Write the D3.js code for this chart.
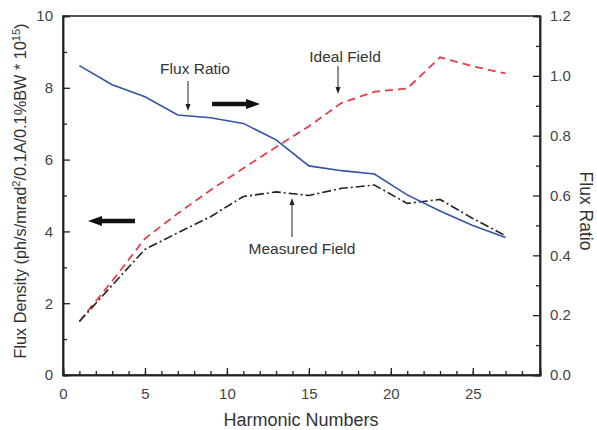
<!DOCTYPE html>
<html>
<head>
<meta charset="utf-8">
<script src="https://cdn.jsdelivr.net/npm/d3@7"></script>
<style>
  body { margin: 0; background: #fff; }
  svg { font-family: "Liberation Sans", Arial, sans-serif; }
  .tick text { fill: #444; font-size: 15px; }
</style>
</head>
<body>
<svg width="597" height="430"></svg>
<script>
// Harmonic numbers (odd harmonics)
const harmonics = [1, 3, 5, 7, 9, 11, 13, 15, 17, 19, 21, 23, 25, 27];
// Ideal field flux density (left axis)
const idealField = [1.49, 2.62, 3.8, 4.5, 5.15, 5.76, 6.35, 6.93, 7.58, 7.89, 7.98, 8.85, 8.6, 8.4];
// Measured field flux density (left axis)
const measuredField = [1.49, 2.5, 3.5, 3.96, 4.41, 4.97, 5.1, 5.0, 5.2, 5.29, 4.78, 4.89, 4.36, 3.88];
// Flux ratio (right axis)
const fluxRatio = [1.034, 0.97, 0.93, 0.869, 0.86, 0.841, 0.786, 0.699, 0.683, 0.672, 0.602, 0.548, 0.50, 0.46];

const leftTicks = [0, 2, 4, 6, 8, 10];
const rightTicks = [0, 0.2, 0.4, 0.6, 0.8, 1.0, 1.2];
const xTicks = [0, 5, 10, 15, 20, 25];

const svg = d3.select("svg");
const margin = { left: 63, right: 57, top: 16, bottom: 55 };
const W = 597, H = 430;

const x = d3.scaleLinear().domain([0, 29.1]).range([margin.left, W - margin.right]);
const yL = d3.scaleLinear().domain([0, 10]).range([H - margin.bottom, margin.top]);
const yR = d3.scaleLinear().domain([0, 1.2]).range([H - margin.bottom, margin.top]);

const axisColor = "#222";

// frame
svg.append("rect")
  .attr("x", x(0)).attr("y", yL(10))
  .attr("width", x(29.1) - x(0)).attr("height", yL(0) - yL(10))
  .attr("fill", "none").attr("stroke", axisColor).attr("stroke-width", 1.5);

// bottom axis: ticks inward
const xAxis = svg.append("g").attr("transform", `translate(0,${yL(0)})`);
xAxis.call(d3.axisBottom(x).tickValues(xTicks).tickSize(-7).tickPadding(13).tickFormat(d3.format("d")));
xAxis.append("g").call(d3.axisBottom(x).tickValues(d3.range(1, 29)).tickSize(-4).tickFormat(""));

const yAxisL = svg.append("g").attr("transform", `translate(${x(0)},0)`);
yAxisL.call(d3.axisLeft(yL).tickValues(leftTicks).tickSize(-7).tickPadding(10).tickFormat(d3.format("d")));
yAxisL.append("g").call(d3.axisLeft(yL).tickValues([1, 3, 5, 7, 9]).tickSize(-4).tickFormat(""));

const yAxisR = svg.append("g").attr("transform", `translate(${x(29.1)},0)`);
yAxisR.call(d3.axisRight(yR).tickValues(rightTicks).tickSize(-7).tickPadding(10).tickFormat(d3.format(".1f")));
yAxisR.append("g").call(d3.axisRight(yR).tickValues([0.1, 0.3, 0.5, 0.7, 0.9, 1.1]).tickSize(-4).tickFormat(""));

svg.selectAll(".domain").attr("stroke", axisColor).attr("stroke-width", 1.5);
svg.selectAll(".tick line").attr("stroke", axisColor).attr("stroke-width", 1.3);

// series
const lineL = d3.line().x((d, i) => x(harmonics[i])).y(d => yL(d));
const lineR = d3.line().x((d, i) => x(harmonics[i])).y(d => yR(d));

svg.append("path").datum(idealField).attr("d", lineL)
  .attr("fill", "none").attr("stroke", "#e2404c").attr("stroke-width", 1.8)
  .attr("stroke-dasharray", "8,5");

svg.append("path").datum(measuredField).attr("d", lineL)
  .attr("fill", "none").attr("stroke", "#222").attr("stroke-width", 1.6)
  .attr("stroke-dasharray", "9,3,2,3");

svg.append("path").datum(fluxRatio).attr("d", lineR)
  .attr("fill", "none").attr("stroke", "#3353a5").attr("stroke-width", 1.6);

// annotations
const ann = svg.append("g").attr("fill", "#333").attr("font-size", 15.5);
function label(tx, ty, text) {
  ann.append("text").attr("x", tx).attr("y", ty).attr("text-anchor", "middle").text(text);
}
function thinArrow(x0, y0, y1) {
  const dir = y1 > y0 ? 1 : -1;
  svg.append("line").attr("x1", x0).attr("x2", x0).attr("y1", y0).attr("y2", y1 - dir * 5)
    .attr("stroke", "#222").attr("stroke-width", 1);
  svg.append("path")
    .attr("d", `M${x0 - 2.5},${y1 - dir * 7}L${x0},${y1}L${x0 + 2.5},${y1 - dir * 7}Z`)
    .attr("fill", "#222");
}
function thickArrow(x0, x1, yy) {
  const dir = x1 > x0 ? 1 : -1;
  svg.append("line").attr("x1", x0).attr("x2", x1 - dir * 10).attr("y1", yy).attr("y2", yy)
    .attr("stroke", "#111").attr("stroke-width", 4.5);
  svg.append("path")
    .attr("d", `M${x1 - dir * 14},${yy - 5}L${x1},${yy}L${x1 - dir * 14},${yy + 5}Z`)
    .attr("fill", "#111");
}

label(195, 74, "Flux Ratio");
thinArrow(188, 81, 111);
thickArrow(212, 260, 104);

label(345, 62, "Ideal Field");
thinArrow(338, 66, 94);

thickArrow(135, 88, 221);

label(302, 254, "Measured Field");
thinArrow(292, 237, 198);

// axis titles
svg.append("text").attr("x", 301).attr("y", 426)
  .attr("text-anchor", "middle").attr("font-size", 18).attr("fill", "#333")
  .text("Harmonic Numbers");

const lt = svg.append("text")
  .attr("transform", `translate(26,191) rotate(-90)`)
  .attr("text-anchor", "middle").attr("font-size", 16.3).attr("fill", "#333");
lt.append("tspan").text("Flux Density (ph/s/mrad");
lt.append("tspan").attr("dy", -6).attr("font-size", 11).text("2");
lt.append("tspan").attr("dy", 6).text("/0.1A/0.1%BW * 10");
lt.append("tspan").attr("dy", -6).attr("font-size", 11).text("15");
lt.append("tspan").attr("dy", 6).text(")");

svg.append("text")
  .attr("transform", `translate(580,211) rotate(90)`)
  .attr("text-anchor", "middle").attr("font-size", 17.5).attr("fill", "#333")
  .text("Flux Ratio");
</script>
</body>
</html>
